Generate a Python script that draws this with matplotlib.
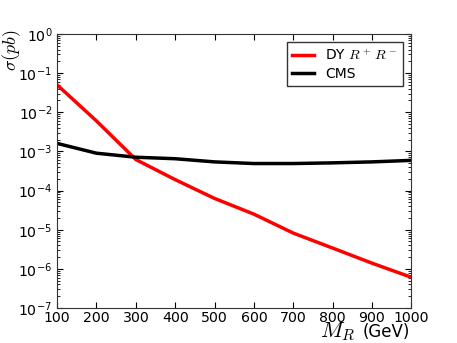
import numpy as np
import matplotlib
matplotlib.use("Agg")
import matplotlib.pyplot as plt

mass = [100, 200, 300, 400, 500, 600, 700, 800, 900, 1000]
dy_xsec = [5.0e-2, 6.0e-3, 6.2e-4, 1.9e-4, 6.3e-5, 2.5e-5, 8.2e-6, 3.4e-6, 1.4e-6, 6.1e-7]
cms_limit = [1.6e-3, 9.0e-4, 7.1e-4, 6.5e-4, 5.4e-4, 4.9e-4, 4.9e-4, 5.1e-4, 5.4e-4, 5.9e-4]
xticks = list(range(100, 1001, 100))
yticks = [10.0 ** k for k in range(-7, 1)]
ytick_labels = ["$10^{%d}$" % k for k in range(-7, 1)]

plt.rcParams["mathtext.fontset"] = "cm"
plt.rcParams["mathtext.default"] = "regular"
plt.rcParams["xtick.direction"] = "in"
plt.rcParams["ytick.direction"] = "in"

fig = plt.figure(figsize=(4.57, 3.43), dpi=100)
ax = fig.add_axes([0.125, 0.102, 0.775, 0.799])

ax.plot(mass, dy_xsec, color="red", lw=2.5, label="DY $\\mathit{R^+\\,R^-}$")
ax.plot(mass, cms_limit, color="black", lw=2.5, label="CMS")

ax.set_yscale("log")
ax.set_xlim(100, 1000)
ax.set_ylim(1e-7, 1)
ax.set_xticks(xticks)
ax.set_yticks(yticks)
ax.set_yticklabels(ytick_labels)
ax.tick_params(which="both", top=True, right=True, labelsize=10.2)
ax.tick_params(which="major", length=4)
ax.tick_params(which="minor", length=2)
ax.tick_params(axis="x", pad=2)
for s in ax.spines.values():
    s.set_color("#333333")

# x label: big italic symbol plus unit, right-aligned under the axis
fig.text(410 / 457, 1 - 337 / 343, "(GeV)", fontsize=12,
         ha="right", va="baseline")
fig.text(355 / 457, 1 - 337 / 343, "$\\mathit{M_R}$", fontsize=16,
         ha="right", va="baseline")
fig.text(12 / 457, 1 - 50 / 343, "$\\mathit{\\sigma(pb)}$", fontsize=13,
         rotation=90, ha="center", va="center")

leg = ax.legend(loc="upper right", fontsize=10, fancybox=False, framealpha=1,
                edgecolor="#333333", handlelength=1.6, borderpad=0.4,
                labelspacing=0.3, borderaxespad=0.6)
leg.get_frame().set_linewidth(1.0)

fig.savefig("out.png", dpi=100)
